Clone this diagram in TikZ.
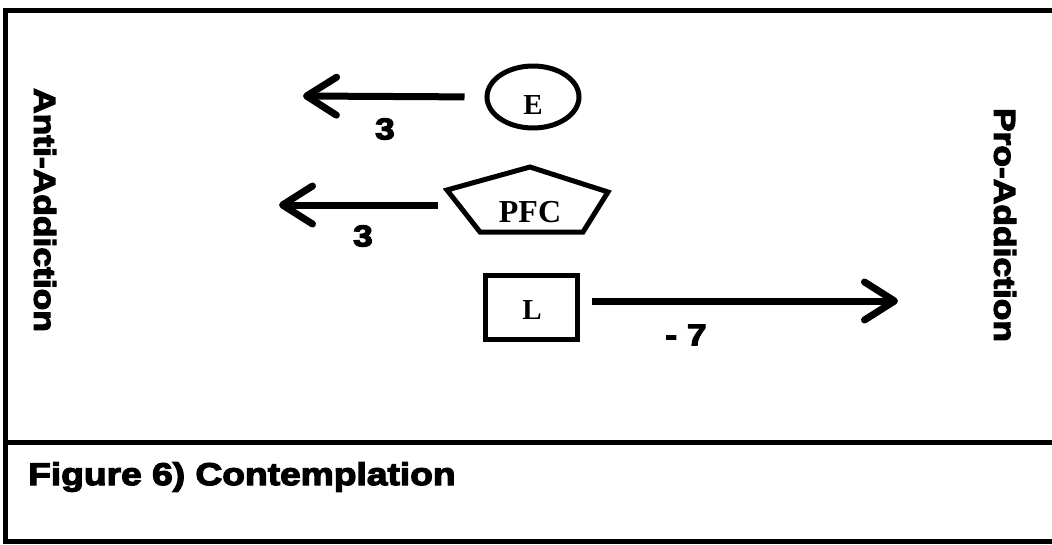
\documentclass[tikz,border=0pt]{standalone}
\usepackage{fontspec}
\usetikzlibrary{arrows.meta,calc,shapes.geometric}
\newfontfamily\heavy{Liberation Sans Bold}[FakeStretch=1.18,FakeBold=4]
\newfontfamily\tnr{Liberation Serif}
\begin{document}
\begin{tikzpicture}[x=1pt,y=-1pt,
  frame/.style={line width=5pt},
  shapeline/.style={line width=5pt},
  arr/.style={line width=7pt,-{Straight Barb[length=30pt,width=38pt,round]}},
  side/.style={font=\heavy\fontsize{30}{32}\selectfont,rotate=-90,inner sep=0pt},
  num/.style={font=\heavy\fontsize{30}{32}\selectfont,inner sep=0pt},
  lbl/.style={font=\tnr\bfseries\fontsize{29}{32}\selectfont,inner sep=0pt}]
\useasboundingbox (0,0) rectangle (1052,544);
\fill[white] (0,0) rectangle (1052,544);
% frame
\draw[frame] (1052,10) -- (5,10) -- (5,544);
\draw[frame] (5,442) -- (1052,442);
\draw[frame] (5,541) -- (1052,541);
% side texts
\node[side] (anti) at (45,210) {Anti-Addiction};
\node[side] (pro) at (1005,225) {Pro-Addiction};
% caption
\node[font=\heavy\fontsize{31.5}{34}\selectfont,anchor=west,inner sep=0pt] (cap) at (28,477) {Figure 6) Contemplation};
% E
\node[draw,shapeline,ellipse,minimum width=92pt,minimum height=62pt,inner sep=0pt] (E) at (533,97) {};
\node[lbl] (Etxt) at (533,105) {E};
\coordinate (Etip) at (303,96);
\draw[arr,shorten <=20pt] (E.west) -- (Etip);
\node[num] (n1) at (385,129) {3};
% PFC
\draw[shapeline,line join=miter] (530,167) -- (608,192) -- (583,232) -- (480,232) -- (447,190) -- cycle;
\node[lbl,font=\tnr\bfseries\fontsize{32}{34}\selectfont,minimum width=184pt] (pfc) at (530,212) {PFC};
\coordinate (Ptip) at (279,205);
\draw[arr] ([yshift=7pt]pfc.west) -- (Ptip);
\node[num] (n2) at (363,236) {3};
% L
\node[draw,shapeline,rectangle,minimum width=92pt,minimum height=64pt,inner sep=0pt] (L) at (531,307) {};
\node[lbl] (Ltxt) at (532,310) {L};
\coordinate (Ltip) at (898,301);
\draw[arr,shorten <=12pt] ([yshift=6pt]L.east) -- (Ltip);
\node[num] (n3) at (686,335) {- 7};
\end{tikzpicture}
\end{document}
